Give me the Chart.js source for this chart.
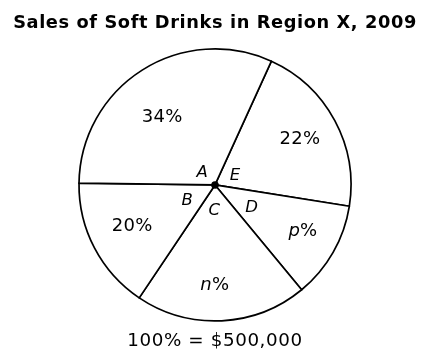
<!DOCTYPE html>
<html>
<head>
<meta charset="utf-8">
<script src="https://cdn.jsdelivr.net/npm/chart.js@4"></script>
<style>
  body { margin: 0; background: #fff; }
  #wrap { width: 429px; height: 360px; }
</style>
</head>
<body>
<div id="wrap"><canvas id="pie" width="429" height="360"></canvas></div>
<script>
    // slices clockwise, starting from the line at top right
    const sliceNames = ['E', 'D', 'C', 'B', 'A'];
    const sliceLabels = ['22%', 'p%', 'n%', '20%', '34%'];
    // share of the circle each slice takes as drawn (not to scale with labels)
    const sliceShares = [20.7, 11.5, 20.4, 15.8, 31.6];

    // where the text sits inside each slice: fraction across the slice angle, radius ratio
    const labelPlace = [[0.5, 0.71], [0.45, 0.73], [0.54, 0.74], [0.52, 0.68], [0.45, 0.63]];
    // angle letters near the centre: fraction across the slice angle, distance in px
    const letterPlace = [[0.55, 22], [0.55, 43], [0.56, 26], [0.46, 32], [0.38, 18]];

    // slightly wider text like the original
    const spacingPlugin = {
        id: 'spacing',
        beforeDraw(chart) {
            chart.ctx.letterSpacing = '0.6px';
        }
    };

    const textPlugin = {
        id: 'sliceText',
        afterDatasetsDraw(chart) {
            const ctx = chart.ctx;
            const arcs = chart.getDatasetMeta(0).data;
            ctx.save();
            ctx.fillStyle = '#000';
            ctx.textAlign = 'center';
            ctx.textBaseline = 'middle';
            arcs.forEach((arc, i) => {
                const p = arc.getProps(['x', 'y', 'startAngle', 'endAngle', 'outerRadius'], true);
                const a1 = p.startAngle + (p.endAngle - p.startAngle) * labelPlace[i][0];
                const r1 = p.outerRadius * labelPlace[i][1];
                ctx.letterSpacing = '0.3px';
                ctx.font = '18px "DejaVu Sans"';
                if (sliceLabels[i].startsWith('p') || sliceLabels[i].startsWith('n')) {
                    // variable letter in italic, percent sign upright
                    const v = sliceLabels[i][0];
                    ctx.font = 'italic 18px "DejaVu Sans"';
                    const wv = ctx.measureText(v).width;
                    ctx.font = '18px "DejaVu Sans"';
                    const wp = ctx.measureText('%').width;
                    const x0 = p.x + r1 * Math.cos(a1) - (wv + wp) / 2;
                    const y0 = p.y + r1 * Math.sin(a1);
                    ctx.textAlign = 'left';
                    ctx.font = 'italic 18px "DejaVu Sans"';
                    ctx.fillText(v, x0, y0);
                    ctx.font = '18px "DejaVu Sans"';
                    ctx.fillText('%', x0 + wv, y0);
                    ctx.textAlign = 'center';
                } else {
                    ctx.fillText(sliceLabels[i], p.x + r1 * Math.cos(a1), p.y + r1 * Math.sin(a1));
                }
                const a2 = p.startAngle + (p.endAngle - p.startAngle) * letterPlace[i][0];
                const r2 = letterPlace[i][1];
                ctx.letterSpacing = '0px';
                ctx.font = 'italic 16.5px "DejaVu Sans"';
                ctx.fillText(sliceNames[i], p.x + r2 * Math.cos(a2), p.y + r2 * Math.sin(a2));
            });
            // centre dot
            const c = arcs[0].getProps(['x', 'y'], true);
            ctx.beginPath();
            ctx.arc(c.x, c.y, 3.8, 0, Math.PI * 2);
            ctx.fill();
            ctx.restore();
        }
    };

    const ctx = document.getElementById('pie').getContext('2d');
    const myChart = new Chart(ctx, {
        type: 'pie',
        data: {
            labels: sliceNames,
            datasets: [{
                data: sliceShares,
                backgroundColor: '#fff',
                borderColor: '#000',
                borderWidth: 1.7,
                borderJoinStyle: 'round'
            }]
        },
        options: {
            responsive: false,
            animation: false,
            rotation: 24.5,
            radius: 136,
            layout: { padding: { left: 1, right: 0, top: 0, bottom: 0 } },
            plugins: {
                legend: { display: false },
                tooltip: { enabled: false },
                title: {
                    display: true,
                    text: 'Sales of Soft Drinks in Region X, 2009',
                    color: '#000',
                    font: { family: 'DejaVu Sans', size: 17.8, weight: 'bold', lineHeight: 1.2 },
                    padding: { top: 13, bottom: 10 }
                },
                subtitle: {
                    display: true,
                    position: 'bottom',
                    text: '100% = $500,000',
                    color: '#000',
                    font: { family: 'DejaVu Sans', size: 18.3, lineHeight: 1.2 },
                    padding: { top: 5, bottom: 7.5 }
                }
            }
        },
        plugins: [spacingPlugin, textPlugin]
    });
</script>
</body>
</html>
